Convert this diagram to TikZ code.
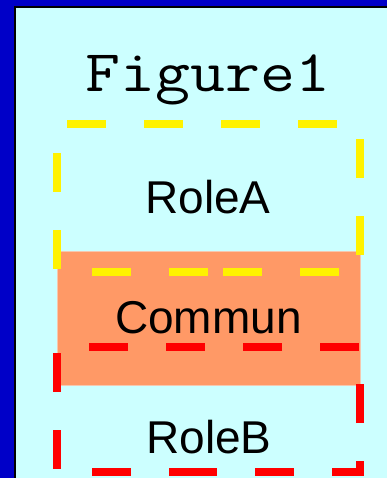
\documentclass[tikz,border=0pt]{standalone}
\usepackage{fontspec}
\setmainfont{Liberation Sans}
\newfontfamily\figmono[FakeStretch=1.15]{Latin Modern Mono}
\usepackage{tikz}
\definecolor{frameblue}{RGB}{0,0,200}
\definecolor{panelcyan}{RGB}{204,255,255}
\definecolor{communfill}{RGB}{255,153,102}
\definecolor{communedge}{RGB}{245,200,175}
\tikzstyle{rolebox} = [line width=8pt, dash pattern=on 39pt off 38pt]
\tikzstyle{rolename} = [anchor=base, inner sep=0pt, font=\fontsize{46}{55}\selectfont]

\begin{document}
\begin{tikzpicture}[x=1pt, y=-1pt]
\useasboundingbox (0,0) rectangle (387,478);
% Window frame
\fill[frameblue] (0,0) rectangle (387,478);
\fill[black] (14,6) rectangle (387,478);
\fill[panelcyan] (16,8) rectangle (387,478);

% Title
\node[anchor=base, inner sep=0pt, font=\figmono\fontsize{59}{70}\selectfont] (title) at (208,92) {Figure1};

% Shared part
\filldraw[fill=communfill, draw=communedge, line width=1pt] (57,251) rectangle (360,385);

% Role A
\draw[rolebox, yellow] (223,272) -- (360,272) -- (360,124.5) -- (57,124.5) -- (57,272) -- cycle;
% Role B
\draw[rolebox, red, dash phase=30pt] (208,472) -- (360,472) -- (360,347) -- (57,347) -- (57,472) -- cycle;

% Names
\node[rolename] (roleA) at (208,213) {RoleA};
\node[rolename] (commun) at (208.5,333) {Commun};
\node[rolename] (roleB) at (209,453) {RoleB};
\end{tikzpicture}
\end{document}
